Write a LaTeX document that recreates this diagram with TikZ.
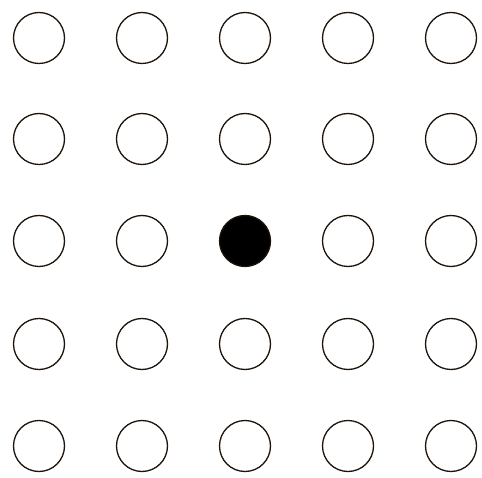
\documentclass[tikz,border=0pt]{standalone}
\begin{document}
\begin{tikzpicture}[x=1pt,y=-1pt,
  dot/.style={circle,draw=black!85!brown,line width=1.3pt,minimum size=51pt,inner sep=0pt},
  fulldot/.style={dot,fill=black}]
\useasboundingbox (0,0) rectangle (482,478);
\foreach \i/\x in {1/39,2/142,3/245,4/348,5/451}{
  \foreach \j/\y in {1/38,2/139,3/241,4/344,5/446}{
    \ifnum\i=3 \ifnum\j=3
      \node[fulldot] (c\i\j) at (\x,\y) {};
    \else
      \node[dot] (c\i\j) at (\x,\y) {};
    \fi\else
      \node[dot] (c\i\j) at (\x,\y) {};
    \fi
  }
}
\end{tikzpicture}
\end{document}
